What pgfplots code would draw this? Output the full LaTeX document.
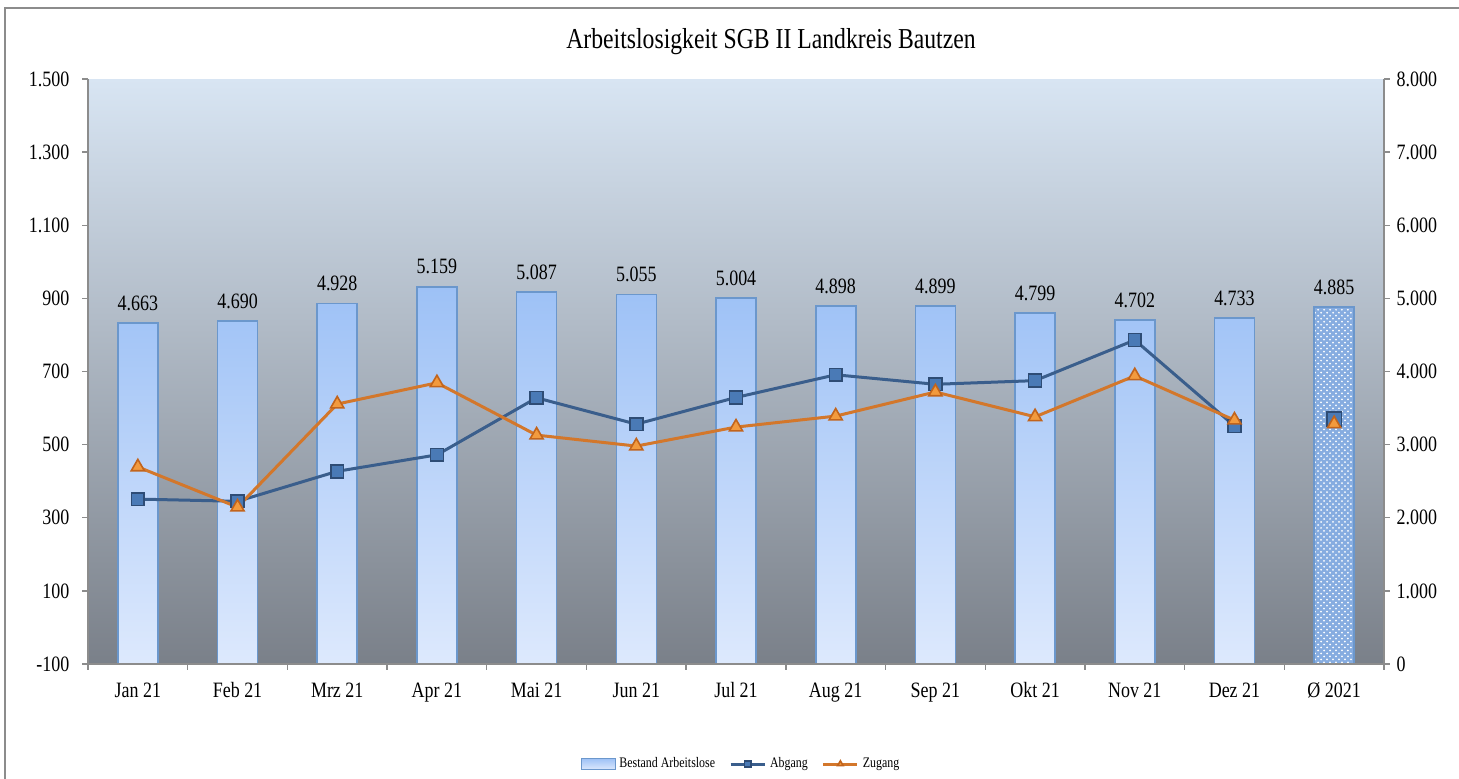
\documentclass[border=0pt]{standalone}
\usepackage{fontspec}
\setmainfont{Liberation Serif}[FakeStretch=0.82]
\usepackage{pgfplots}
\pgfplotsset{compat=1.18}
\usetikzlibrary{patterns}
\definecolor{bgtop}{HTML}{D8E5F3}
\definecolor{bgmid}{HTML}{B5BDC6}
\definecolor{bgbot}{HTML}{7A8089}
\definecolor{bartop}{HTML}{9DC1F6}
\definecolor{barbot}{HTML}{DDE9FD}
\definecolor{baredge}{HTML}{6B97CC}
\definecolor{avgfill}{HTML}{86ACE0}
\definecolor{abline}{HTML}{3A5E8C}
\definecolor{abfill}{HTML}{4A7AB6}
\definecolor{abdraw}{HTML}{2E4C75}
\definecolor{zuline}{HTML}{D3772B}
\definecolor{zufill}{HTML}{F29A3E}
\definecolor{zudraw}{HTML}{C2641C}
\definecolor{axgray}{HTML}{8C8C8C}
\pgfplotsset{
  common/.style={
    at={(44bp,57.5bp)}, anchor=south west, scale only axis,
    width=648bp, height=292.5bp,
    xmin=-0.5, xmax=12.5,
    tick align=outside, major tick length=2.8bp,
    every tick/.style={axgray, line width=0.7bp},
    axis line style={axgray, line width=0.9bp},
    ticklabel style={font=\fontsize{11}{12}\selectfont, text=black},
    scaled y ticks=false,
    /pgf/number format/1000 sep={.},
    /pgf/number format/use comma,
    /pgf/number format/assume math mode=true,
  }
}
\begin{document}
\begin{tikzpicture}
\useasboundingbox (0,0) rectangle (729.5bp,389.5bp);
\draw[axgray, line width=0.7bp] (2.5bp,0) -- (2.5bp,385.5bp) -- (729.5bp,385.5bp);
\node[font=\fontsize{14.5}{16}\selectfont] at (385.5bp,368.5bp) {Arbeitslosigkeit SGB II Landkreis Bautzen};

\begin{axis}[common,
  ymin=0, ymax=8000, ytick={0,1000,...,8000},
  axis y line*=right, axis x line*=bottom, xtick=\empty,
  axis background/.style={top color=bgtop, middle color=bgmid, bottom color=bgbot},
  ybar, bar width=20bp,
  nodes near coords={\pgfmathprintnumber[assume math mode=true]{\pgfplotspointmeta}},
  nodes near coords style={font=\fontsize{11}{12}\selectfont, text=black, yshift=2.5bp},
]
\addplot[draw=baredge, line width=0.8bp, top color=bartop, bottom color=barbot, bar shift=0pt]
  coordinates {(0,4663) (1,4690) (2,4928) (3,5159) (4,5087) (5,5055) (6,5004) (7,4898) (8,4899) (9,4799) (10,4702) (11,4733)};
\addplot[draw=baredge, line width=0.8bp, fill=avgfill, postaction={pattern=crosshatch dots, pattern color=white}, bar shift=0pt]
  coordinates {(12,4885)};
\end{axis}

\begin{axis}[common,
  ymin=-100, ymax=1500, ytick={-100,100,...,1500},
  axis y line*=left, axis x line*=bottom,
  xtick={-0.5,0.5,...,12.5}, x tick label as interval,
  xticklabels={Jan 21,Feb 21,Mrz 21,Apr 21,Mai 21,Jun 21,Jul 21,Aug 21,Sep 21,Okt 21,Nov 21,Dez 21,Ø 2021},
  yticklabel style={xshift=-3bp}, xticklabel style={yshift=-3bp},
  legend style={at={(0.5046,-0.171)}, anchor=center, draw=none, fill=none,
    legend columns=3, font=\fontsize{7.3}{8}\selectfont,
    /tikz/every even column/.append style={column sep=5bp}},
  legend cell align=left,
  legend image post style={mark size=1.6bp},
]
\addlegendimage{area legend, draw=baredge, top color=bartop, bottom color=barbot}
\addlegendentry{Bestand Arbeitslose}
\addplot[abline, line width=1.5bp, mark=square*, mark size=3.2bp, mark options={fill=abfill, draw=abdraw, line width=0.8bp}]
  coordinates {(0,351) (1,345) (2,427) (3,472) (4,628) (5,556) (6,629) (7,691) (8,665) (9,675) (10,786) (11,551)};
\addlegendentry{Abgang}
\addplot[zuline, line width=1.5bp, mark=triangle*, mark size=3.8bp, mark options={fill=zufill, draw=zudraw, line width=0.8bp}]
  coordinates {(0,439) (1,329) (2,611) (3,669) (4,526) (5,496) (6,548) (7,578) (8,644) (9,576) (10,688) (11,567)};
\addlegendentry{Zugang}
\addplot[forget plot, only marks, mark=square*, mark size=3.6bp, mark options={fill=abfill, draw=abdraw, line width=0.8bp}]
  coordinates {(12,570)};
\addplot[forget plot, only marks, mark=triangle*, mark size=3.8bp, mark options={fill=zufill, draw=zudraw, line width=0.8bp}]
  coordinates {(12,557)};
\end{axis}
\end{tikzpicture}
\end{document}
